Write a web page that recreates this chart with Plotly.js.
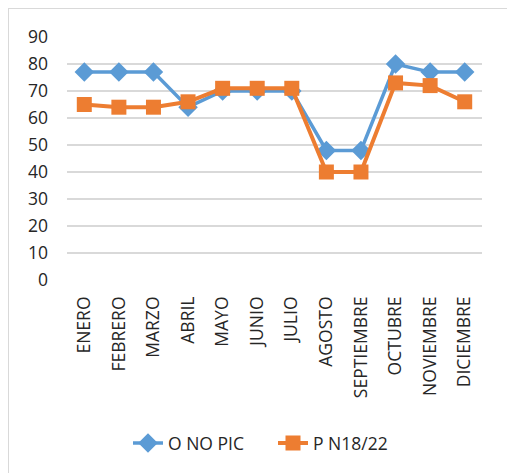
<!DOCTYPE html>
<html>
<head>
<meta charset="utf-8">
<script src="https://cdn.plot.ly/plotly-3.0.1.min.js"></script>
<style>
html,body{margin:0;padding:0;background:#fff;}
#frame{position:absolute;left:8px;top:8px;width:700px;height:700px;border:1px solid #d9d9d9;box-sizing:border-box;}
#chart{position:absolute;left:0;top:0;width:507px;height:473px;}
</style>
</head>
<body>
<div id="frame"></div>
<div id="chart"></div>
<script>
const months = ["ENERO","FEBRERO","MARZO","ABRIL","MAYO","JUNIO","JULIO","AGOSTO","SEPTIEMBRE","OCTUBRE","NOVIEMBRE","DICIEMBRE"];
const seriesAName = "O NO PIC";
const seriesAValues = [77,77,77,64,70,70,70,48,48,80,77,77];
const seriesBName = "P N18/22";
const seriesBValues = [65,64,64,66,71,71,71,40,40,73,72,66];
const yTicks = [0,10,20,30,40,50,60,70,80,90];

const font = {family: "Open Sans, Liberation Sans, sans-serif", size: 17.5, color: "#262626"};

const traces = [
  {x: months, y: seriesAValues, name: seriesAName, type: "scatter", mode: "lines+markers",
   line: {color: "#5B9BD5", width: 3.5}, marker: {symbol: "diamond", size: 15, color: "#5B9BD5"}},
  {x: months, y: seriesBValues, name: seriesBName, type: "scatter", mode: "lines+markers",
   line: {color: "#ED7D31", width: 4}, marker: {symbol: "square", size: 15, color: "#ED7D31"}}
];

const layout = {
  width: 507, height: 473,
  margin: {l: 67, r: 25, t: 37, b: 193},
  paper_bgcolor: "rgba(0,0,0,0)",
  plot_bgcolor: "rgba(0,0,0,0)",
  font: font,
  showlegend: true,
  legend: {orientation: "h", xref: "container", yref: "container", x: 128/507, xanchor: "left", y: 0.063, yanchor: "middle",
           font: font, entrywidth: 100, traceorder: "normal"},
  xaxis: {type: "category", range: [-0.5, 11.5], tickangle: -90, showgrid: false, zeroline: false, showline: false,
          ticks: "", ticklabelstandoff: 12, tickfont: font, fixedrange: true},
  yaxis: {range: [0, 90], tickvals: yTicks, showgrid: true, gridcolor: "#d9d9d9", gridwidth: 1.3, zeroline: false,
          showline: false, ticks: "", ticklabelstandoff: 18, tickfont: font, fixedrange: true}
};

Plotly.newPlot("chart", traces, layout, {displayModeBar: false, staticPlot: true});
</script>
</body>
</html>
